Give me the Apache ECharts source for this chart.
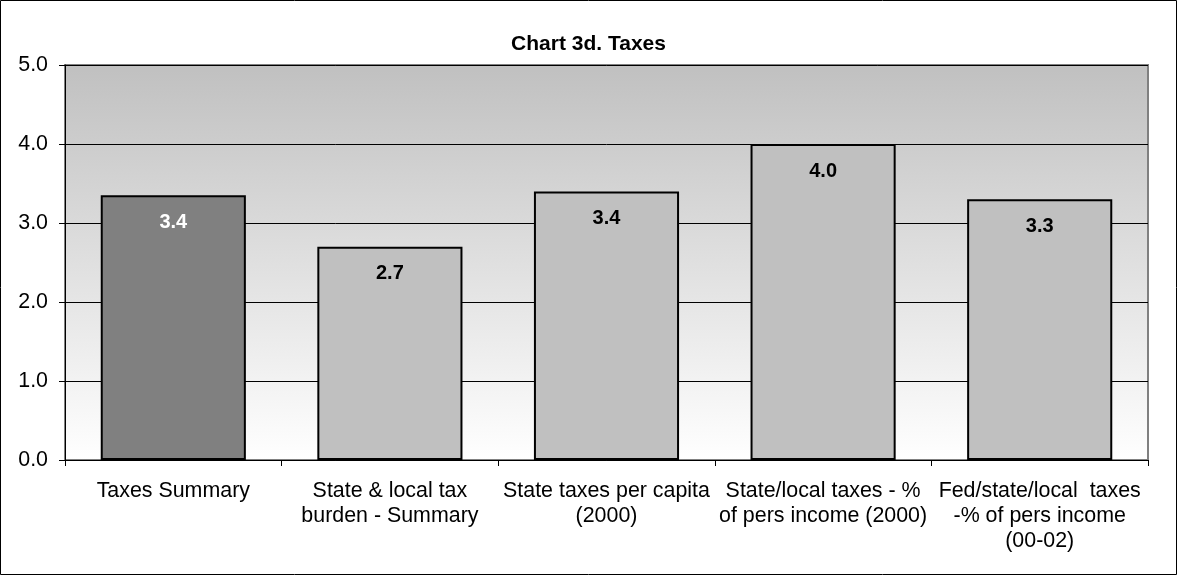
<!DOCTYPE html>
<html>
<head>
<meta charset="utf-8">
<script src="https://cdn.jsdelivr.net/npm/echarts@6/dist/echarts.min.js"></script>
<style>
  html, body { margin: 0; padding: 0; background: #fff; }
  #chart { width: 1177px; height: 575px; }
</style>
</head>
<body>
<div id="chart"></div>
<script>
// values
const categories = [
  'Taxes Summary',
  'State & local tax\nburden - Summary',
  'State taxes per capita\n(2000)',
  'State/local taxes - %\nof pers income (2000)',
  'Fed/state/local  taxes\n-% of pers income\n(00-02)'
]
const values = [3.35, 2.7, 3.4, 4.0, 3.3]
const labelText = ['3.4', '2.7', '3.4', '4.0', '3.3']

const font = 'Liberation Sans, Arial, sans-serif'

const chart = echarts.init(document.getElementById('chart'), null, { renderer: 'canvas' })

chart.setOption({
  animation: false,
  title: {
    text: 'Chart 3d. Taxes',
    left: 'center',
    top: 29,
    textStyle: { color: '#000', fontSize: 21, fontWeight: 'bold', fontFamily: font }
  },
  graphic: [{
    type: 'rect',
    shape: { x: 0.5, y: 0.5, width: 1176, height: 574 },
    style: { fill: 'none', stroke: '#000', lineWidth: 1 },
    silent: true,
    z: 100
  }],
  grid: {
    left: 65, right: 29, top: 65, bottom: 115,
    show: true,
    borderColor: '#808080',
    borderWidth: 2,
    backgroundColor: new echarts.graphic.LinearGradient(0, 0, 0, 1, [
      { offset: 0, color: '#c0c0c0' },
      { offset: 1, color: '#ffffff' }
    ])
  },
  xAxis: {
    type: 'category',
    data: categories,
    axisLine: { lineStyle: { color: '#000', width: 1 } },
    axisTick: { show: true, length: 6, lineStyle: { color: '#000' } },
    axisLabel: {
      color: '#000', fontSize: 21.4, fontFamily: font,
      margin: 19, lineHeight: 25, interval: 0, align: 'center'
    },
    splitLine: { show: false }
  },
  yAxis: {
    type: 'value',
    min: 0, max: 5, interval: 1,
    axisLine: { show: true, lineStyle: { color: '#000', width: 1 } },
    axisTick: { show: true, length: 6, lineStyle: { color: '#000' } },
    axisLabel: {
      color: '#000', fontSize: 21.4, fontFamily: font, margin: 17,
      formatter: (v) => v.toFixed(1)
    },
    splitLine: { show: true, lineStyle: { color: '#000', width: 1 } }
  },
  series: [{
    type: 'bar',
    barWidth: '67%',
    data: values.map((v, i) => ({
      value: v,
      itemStyle: { color: i === 0 ? '#808080' : '#c0c0c0' },
      label: { color: i === 0 ? '#fff' : '#000' }
    })),
    itemStyle: { borderColor: '#000', borderWidth: 2 },
    label: {
      show: true,
      position: 'insideTop',
      distance: 17,
      fontSize: 20,
      fontWeight: 'bold',
      fontFamily: font,
      formatter: (p) => labelText[p.dataIndex]
    }
  }]
})
</script>
</body>
</html>
